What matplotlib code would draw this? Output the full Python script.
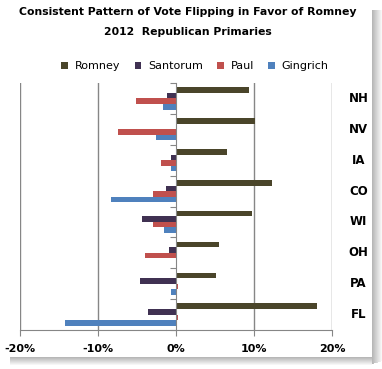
import numpy as np
import matplotlib
matplotlib.use("Agg")
import matplotlib.pyplot as plt
from matplotlib.patches import Rectangle

states = ["NH", "NV", "IA", "CO", "WI", "OH", "PA", "FL"]
candidates = ["Romney", "Santorum", "Paul", "Gingrich"]
romney = [9.4, 10.1, 6.5, 12.3, 9.7, 5.5, 5.1, 18.1]
santorum = [-1.2, 0.0, -0.6, -1.3, -4.4, -0.9, -4.6, -3.6]
paul = [-5.1, -7.4, -1.9, -2.9, -2.9, -4.0, 0.2, 0.3]
gingrich = [-1.7, -2.6, -0.7, -8.3, -1.5, 0.0, -0.7, -14.2]
colors = ["#4a452a", "#403152", "#c0504d", "#4f81bd"]
xticks = [-20, -10, 0, 10, 20]

W, H = 382, 369
fig = plt.figure(figsize=(W / 100, H / 100), dpi=100)
fig.patch.set_facecolor("white")

# drop shadow around the chart box
for i in range(10):
    a = 0.5 * (1 - i / 10)
    fig.patches.append(Rectangle(((372 + i) / W, 1 - (364 - i * 0.3) / H), 1 / W, (354 - i * 0.3) / H,
                                 transform=fig.transFigure, color="#707070", alpha=a, lw=0))
for i in range(8):
    a = 0.5 * (1 - i / 8)
    fig.patches.append(Rectangle((10 / W, 1 - (358 + i) / H), 362 / W, 1 / H,
                                 transform=fig.transFigure, color="#707070", alpha=a, lw=0))

ax = fig.add_axes([20 / W, 1 - 330 / H, 312 / W, 247 / H])
series = [romney, santorum, paul, gingrich]
y = np.arange(len(states))
h = 0.18
for k, (name, vals) in enumerate(zip(candidates, series)):
    ax.barh(y + (k - 1.5) * h, vals, height=h, color=colors[k], label=name, zorder=3)

ax.set_xlim(-20, 20)
ax.set_ylim(len(states) - 0.5, -0.5)
ax.set_xticks(xticks)
ax.set_xticklabels([f"{v}%" for v in xticks], fontsize=8, fontweight="bold")
for v in xticks:
    if v != 0:
        ax.axvline(v, color="#868686", lw=1, zorder=1)

ax.spines[["top", "right"]].set_visible(False)
ax.spines["left"].set_position(("data", 0))
ax.spines["left"].set_color("#868686")
ax.spines["left"].set_zorder(4)
ax.spines["bottom"].set_color("#868686")
ax.set_yticks(np.arange(len(states) + 1) - 0.5)
ax.set_yticklabels([])
ax.tick_params(axis="y", length=4, color="#868686")
ax.tick_params(axis="x", length=4, color="#868686", pad=6)

for i, s in enumerate(states):
    ax.text(1.085, i, s, transform=ax.get_yaxis_transform(), ha="center", va="center",
            fontsize=8.5, fontweight="bold")

fig.text(188 / W, 1 - 12 / H, "Consistent Pattern of Vote Flipping in Favor of Romney",
         ha="center", va="center", fontsize=7.8, fontweight="bold")
fig.text(188 / W, 1 - 32 / H, "2012  Republican Primaries",
         ha="center", va="center", fontsize=7.8, fontweight="bold")

fig.legend(loc="center", bbox_to_anchor=(195 / W, 1 - 66 / H), ncol=4, frameon=False,
           fontsize=8, handlelength=0.6, handleheight=0.6, handletextpad=0.6, columnspacing=1.3)

fig.savefig("out.png", dpi=100)
